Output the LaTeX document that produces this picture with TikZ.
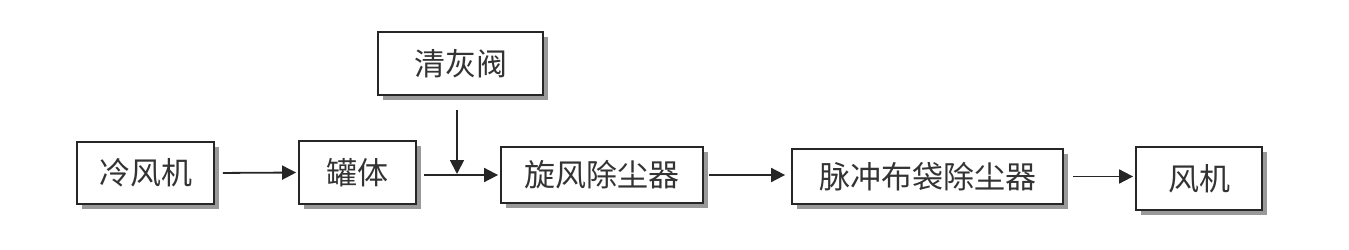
\documentclass[tikz,border=0pt]{standalone}
\usepackage{fontspec}
\newfontfamily\cjk{Noto Sans CJK SC}[Scale=1]
\usetikzlibrary{arrows.meta,shadows}
\begin{document}
\begin{tikzpicture}[x=1pt,y=-1pt,
  box/.style={draw=black!85,line width=1.8pt,fill=white,inner sep=0pt,
    font=\cjk\fontsize{31}{31}\selectfont,text=black!80,
    drop shadow={shadow xshift=5pt,shadow yshift=-5pt,fill=black!40,opacity=1}},
  arr/.style={draw=black!85,line width=1.8pt,-{Triangle[length=14pt,width=14pt]}}]
\useasboundingbox (0,0) rectangle (1349,249);
\node[box,minimum width=137pt,minimum height=62pt] (lf) at (145.5,173) {冷风机};
\node[box,minimum width=117pt,minimum height=63pt] (gt) at (357.5,172.5) {罐体};
\node[box,minimum width=165pt,minimum height=63pt] (qh) at (460.5,63.5) {清灰阀};
\node[box,minimum width=202pt,minimum height=56pt] (xf) at (602,175) {旋风除尘器};
\node[box,minimum width=271pt,minimum height=55pt] (mc) at (927.5,176.5) {脉冲布袋除尘器};
\node[box,minimum width=126pt,minimum height=63pt] (fj) at (1199,178.5) {风机};
\coordinate (j) at (457,175);
\draw[arr,shorten <=8pt,shorten >=2pt] (lf.east) -- (gt.west);
\draw[arr,shorten <=7pt,shorten >=2pt] (gt.east |- xf.west) -- (xf.west);
\draw[arr,shorten <=14pt,shorten >=1pt] (qh.south -| j) -- (j);
\draw[arr,shorten <=5pt,shorten >=6pt] (xf.east) -- (mc.west |- xf.east);
\draw[arr,shorten <=9pt,shorten >=2pt] (mc.east) -- (fj.west |- mc.east);
\end{tikzpicture}
\end{document}
